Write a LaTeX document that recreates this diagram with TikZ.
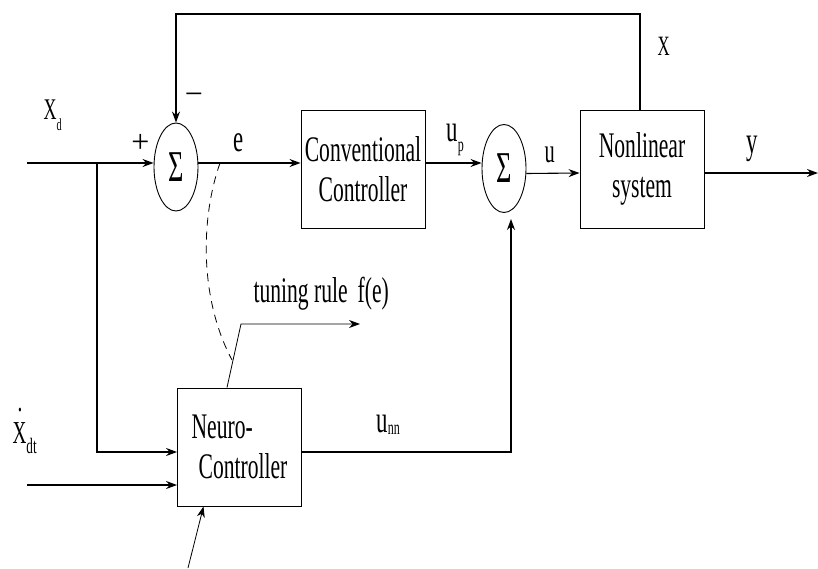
\documentclass[tikz,border=0pt]{standalone}
\usepackage{fontspec}
\setmainfont{Liberation Serif}[FakeStretch=0.6]
\newfontfamily\signfont{Liberation Serif}
\usetikzlibrary{arrows.meta,shapes.geometric}
% lowered subscript: drop, size, text
\newcommand\lsub[3]{\raisebox{-#1pt}{\fontsize{#2}{#2}\selectfont #3}}
\begin{document}
\begin{tikzpicture}[x=1pt,y=-1pt,
  line width=1.1pt,
  >={Stealth[length=11pt,width=8pt]},
  blockbox/.style={draw,line width=0.9pt,minimum width=124pt,minimum height=118pt,
    inner sep=0pt,align=center,font=\fontsize{36}{40}\selectfont},
  sumnode/.style={draw,ellipse,line width=0.9pt,minimum width=44pt,minimum height=88pt,
    inner sep=0pt,font=\fontsize{44}{44}\selectfont},
  lbl/.style={inner sep=0pt,anchor=base west},
  signlbl/.style={inner sep=0pt,anchor=center,font=\signfont\fontsize{32}{32}\selectfont},
  thinline/.style={line width=0.8pt},
]
\useasboundingbox (0,0) rectangle (818,569);

% blocks
\node[sumnode] (s1) at (176,167) {Σ};
\node[blockbox] (cc) at (363,169) {Conventional\\Controller};
\node[sumnode] (s2) at (504,168.5) {Σ};
\node[blockbox] (ns) at (642,169) {Nonlinear\\system};
\node[blockbox,align=left] (nc) at (239.5,447) {Neuro-\\\hspace*{7pt}Controller};

% free ends and bends
\coordinate (xdin) at (27,163);
\coordinate (br) at (97,163);
\coordinate (xdt) at (27,485);
\coordinate (fbtop) at (640,14);
\coordinate (yout) at (818,173);
\coordinate (unnend) at (511,219);
\coordinate (tk) at (241,324);
\coordinate (tr) at (360,324);
\coordinate (lr) at (188,568);
\coordinate (dstart) at (220,163);
\coordinate (dend) at (232,360);

% signal flow
\draw[->] (xdin) -- (s1.west |- xdin);
\draw[->] (br) |- ([yshift=-5pt]nc.west);
\draw[->] (xdt) -- (nc.west |- xdt);
\draw[->] (s1.east |- xdin) -- (cc.west |- xdin);
\draw[->] ([yshift=6pt]cc.east) -- (s2.west |- 0,163);
\draw[->] ([yshift=-5pt]s2.east) -- ([yshift=-4pt]ns.west);
\draw[->] ([yshift=-4pt]ns.east) -- (yout);
\draw[->] ([xshift=-2pt]ns.north) |- (fbtop) -| (s1.north);
\draw[->] ([yshift=-5pt]nc.east) -| (unnend);
\draw[->,thinline] ([xshift=-12.5pt]nc.north) -- (tk) -- (tr);
\draw[->,thinline] (lr) -- ([xshift=-36pt]nc.south);
\draw[thinline,dashed,dash pattern=on 8pt off 6pt] (dstart) .. controls (200,220) and (200,300) .. (dend);

% labels
\node[lbl,font=\fontsize{30}{30}\selectfont] (lxd) at (43,120) {X\lsub{11}{17}{d}};
\node[lbl,font=\fontsize{32}{32}\selectfont] (lxdt) at (12,443)
  {\rlap{\kern5pt\raisebox{32pt}{.}}X\lsub{10}{22}{dt}};
\node[signlbl] (lplus) at (140.5,143) {+};
\node[signlbl] (lminus) at (194,99) {−};
\node[lbl,font=\fontsize{38}{38}\selectfont] (le) at (233,152) {e};
\node[lbl,font=\fontsize{38}{38}\selectfont] (lup) at (446,142) {u\lsub{10}{20}{p}};
\node[lbl,font=\fontsize{34}{34}\selectfont] (lu) at (544,163) {u};
\node[lbl,font=\fontsize{38}{38}\selectfont] (ly) at (746,154) {y};
\node[lbl,font=\fontsize{28}{28}\selectfont] (lx) at (657,56) {X};
\node[lbl,font=\fontsize{38}{38}\selectfont] (lunn) at (376,432) {u\lsub{2}{20}{nn}};
\node[lbl,font=\fontsize{36}{36}\selectfont] (ltune) at (253,302) {tuning rule\hspace{10pt}f(e)};
\end{tikzpicture}
\end{document}
